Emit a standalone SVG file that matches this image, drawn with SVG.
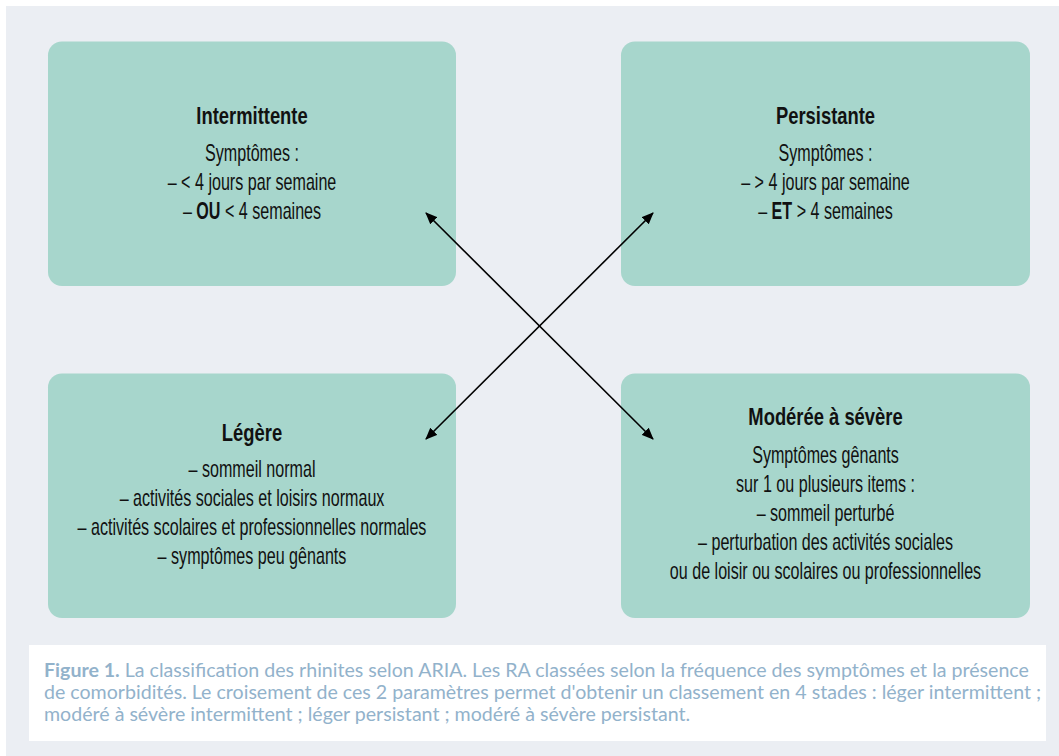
<svg xmlns="http://www.w3.org/2000/svg" width="1059" height="756" viewBox="0 0 1059 756">
<defs>
<style>
.box{fill:#a7d6cc}
.t{font-family:"Liberation Sans",Arial,sans-serif;font-size:23px;fill:#111;text-anchor:middle}
.b{font-weight:bold}
.cap{font-family:Lato,"Open Sans",sans-serif;font-size:19.6px;fill:#92b2cb}
.conn{stroke:#000;stroke-width:1.6;fill:none;marker-start:url(#ah);marker-end:url(#ah)}
</style>
<marker id="ah" viewBox="0 0 12 10" refX="11" refY="5" markerWidth="12" markerHeight="10" markerUnits="userSpaceOnUse" orient="auto-start-reverse">
<path d="M0,0 L12,5 L0,10 z" fill="#000"/>
</marker>
</defs>
<rect x="0" y="0" width="1059" height="756" fill="#fff"/>
<rect x="6" y="6" width="1053" height="750" fill="#ebeef3"/>
<g id="intermittente">
<rect class="box" x="48" y="41.5" width="408" height="244.5" rx="14"/>
<text class="t b" transform="translate(252 0) scale(0.8 1)" x="0" y="124">Intermittente</text>
<g transform="translate(252 0) scale(0.7 1)">
<text class="t" x="0" y="161.5">Symptômes :</text>
<text class="t" x="0" y="190.5">– &lt; 4 jours par semaine</text>
<text class="t" x="0" y="219.5">– <tspan class="b">OU</tspan> &lt; 4 semaines</text>
</g>
</g>
<g id="persistante">
<rect class="box" x="621" y="41.5" width="409" height="244.5" rx="14"/>
<text class="t b" transform="translate(825.5 0) scale(0.8 1)" x="0" y="124">Persistante</text>
<g transform="translate(825.5 0) scale(0.7 1)">
<text class="t" x="0" y="161.5">Symptômes :</text>
<text class="t" x="0" y="190.5">– &gt; 4 jours par semaine</text>
<text class="t" x="0" y="219.5">– <tspan class="b">ET</tspan> &gt; 4 semaines</text>
</g>
</g>
<g id="legere">
<rect class="box" x="48" y="373.5" width="408" height="244.5" rx="14"/>
<text class="t b" transform="translate(252 0) scale(0.8 1)" x="0" y="441">Légère</text>
<g transform="translate(252 0) scale(0.7 1)">
<text class="t" x="0" y="477.5">– sommeil normal</text>
<text class="t" x="0" y="506.5">– activités sociales et loisirs normaux</text>
<text class="t" x="0" y="535.5">– activités scolaires et professionnelles normales</text>
<text class="t" x="0" y="564.5">– symptômes peu gênants</text>
</g>
</g>
<g id="moderee">
<rect class="box" x="621" y="373.5" width="409" height="244.5" rx="14"/>
<text class="t b" transform="translate(825.5 0) scale(0.8 1)" x="0" y="425">Modérée à sévère</text>
<g transform="translate(825.5 0) scale(0.7 1)">
<text class="t" x="0" y="463">Symptômes gênants</text>
<text class="t" x="0" y="492">sur 1 ou plusieurs items :</text>
<text class="t" x="0" y="521">– sommeil perturbé</text>
<text class="t" x="0" y="550">– perturbation des activités sociales</text>
<text class="t" x="0" y="579">ou de loisir ou scolaires ou professionnelles</text>
</g>
</g>
<g id="connectors">
<line class="conn" x1="426" y1="213" x2="653" y2="439"/>
<line class="conn" x1="426" y1="439" x2="653" y2="213"/>
</g>
<g id="caption">
<rect x="29" y="645" width="1017" height="96" fill="#fff"/>
<text class="cap" x="44" y="677"><tspan font-weight="bold">Figure 1.</tspan> La classification des rhinites selon ARIA. Les RA classées selon la fréquence des symptômes et la présence</text>
<text class="cap" x="44" y="699">de comorbidités. Le croisement de ces 2 paramètres permet d'obtenir un classement en 4 stades : léger intermittent ;</text>
<text class="cap" x="44" y="721">modéré à sévère intermittent ; léger persistant ; modéré à sévère persistant.</text>
</g>
</svg>
